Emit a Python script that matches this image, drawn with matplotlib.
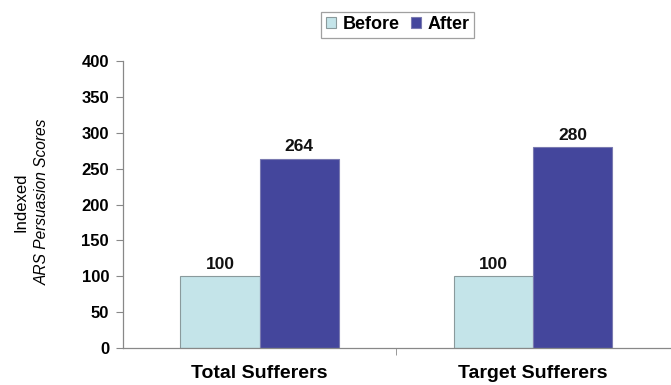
import matplotlib
matplotlib.use("Agg")
import matplotlib.pyplot as plt
import numpy as np

categories = ["Total Sufferers", "Target Sufferers"]
before = [100, 100]
after = [264, 280]
series_names = ["Before", "After"]
yticks = [0, 50, 100, 150, 200, 250, 300, 350, 400]

plt.rcParams["font.family"] = ["Liberation Sans", "DejaVu Sans"]

fig = plt.figure(figsize=(6.71, 3.85), dpi=100)
ax = fig.add_axes([0.1833, 0.096, 0.815, 0.7455])

x = np.arange(len(categories))
w = 0.29
c_before = "#c4e4e9"
c_after = "#44469c"
b1 = ax.bar(x - w / 2, before, w, color=c_before, edgecolor="#8a9a9c", linewidth=0.8, label=series_names[0])
b2 = ax.bar(x + w / 2, after, w, color=c_after, edgecolor="#7a7ab0", linewidth=0.8, label=series_names[1])

for bars, vals in ((b1, before), (b2, after)):
    for r, v in zip(bars, vals):
        ax.annotate(f"{v}", (r.get_x() + r.get_width() / 2, v), xytext=(0, 3),
                    textcoords="offset points", ha="center", va="bottom",
                    fontsize=12.5, fontweight="bold", color="#111111")

ax.set_xlim(-0.5, 1.5)
ax.set_ylim(0, 400)
ax.set_yticks(yticks)
ax.set_yticklabels([str(t) for t in yticks], fontsize=12, fontweight="bold")
ax.set_xticks(x)
ax.set_xticklabels(categories, fontsize=14, fontweight="bold")
ax.tick_params(axis="x", length=0, pad=12)
ax.set_xticks([0.5], minor=True)
ax.tick_params(axis="x", which="minor", length=5, color="#888888")
ax.tick_params(axis="y", length=5, color="#888888", pad=5)

for s in ("top", "right"):
    ax.spines[s].set_visible(False)
for s in ("left", "bottom"):
    ax.spines[s].set_color("#888888")
    ax.spines[s].set_linewidth(0.9)

fig.text(0.032, 0.475, "Indexed", rotation=90, ha="center", va="center", fontsize=12)
fig.text(0.063, 0.475, "ARS Persuasion Scores", rotation=90, ha="center", va="center",
         fontsize=11.2, style="italic")

leg = fig.legend(handles=[b1, b2], labels=series_names, loc="center", bbox_to_anchor=(0.593, 0.936),
                 ncol=2, frameon=True, fancybox=False, edgecolor="#888888",
                 prop={"weight": "bold", "size": 13}, handlelength=0.55, handleheight=0.55,
                 handletextpad=0.4, columnspacing=0.6, borderpad=0.25)
leg.get_frame().set_linewidth(0.9)

fig.savefig("out.png", dpi=100, facecolor="white")
